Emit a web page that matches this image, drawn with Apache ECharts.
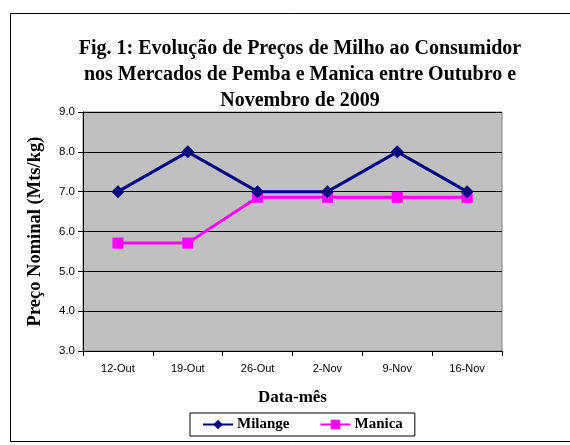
<!DOCTYPE html>
<html>
<head>
<meta charset="utf-8">
<script src="https://cdn.jsdelivr.net/npm/echarts@6/dist/echarts.min.js"></script>
<style>
  html, body { margin: 0; padding: 0; background: #fff; }
  #chart { width: 570px; height: 445px; }
</style>
</head>
<body>
<div id="chart"></div>
<script>
// dados
const categorias = ['12-Out', '19-Out', '26-Out', '2-Nov', '9-Nov', '16-Nov'];
const milange = [7.0, 8.0, 7.0, 7.0, 8.0, 7.0];
const manica = [5.71, 5.71, 6.86, 6.86, 6.86, 6.86];

const serif = '"Liberation Serif", "Times New Roman", serif';
const sans = '"Liberation Sans", Arial, sans-serif';

const chart = echarts.init(document.getElementById('chart'));
chart.setOption({
  animation: false,
  backgroundColor: '#fff',
  title: {
    text: 'Fig. 1: Evolução de Preços de Milho ao Consumidor\nnos Mercados de Pemba e Manica entre Outubro e\nNovembro de 2009',
    left: 295,
    textAlign: 'center',
    top: 31,
    textStyle: {
      fontFamily: serif, fontWeight: 'bold', fontSize: 20, lineHeight: 26, color: '#000'
    }
  },
  graphic: [{
    type: 'rect',
    shape: { x: 10.5, y: 13.5, width: 570, height: 428 },
    style: { fill: 'none', stroke: '#000', lineWidth: 1 },
    silent: true
  }],
  grid: {
    left: 83, right: 68, top: 112, bottom: 94,
    show: true, backgroundColor: '#c0c0c0', borderColor: '#808080', borderWidth: 1
  },
  legend: {
    top: 413,
    left: 190,
    itemGap: 30,
    itemWidth: 30,
    itemHeight: 12,
    padding: [4, 12, 4, 12],
    borderColor: '#000',
    borderWidth: 1,
    borderRadius: 0,
    textStyle: { fontFamily: serif, fontWeight: 'bold', fontSize: 15, color: '#000', padding: [0, 0, 0, -1] },
    data: ['Milange', 'Manica']
  },
  xAxis: {
    type: 'category',
    data: categorias,
    boundaryGap: true,
    name: 'Data-mês',
    nameLocation: 'middle',
    nameGap: 38,
    nameTextStyle: { fontFamily: serif, fontWeight: 'bold', fontSize: 17, color: '#000' },
    axisLine: { lineStyle: { color: '#000', width: 1 } },
    axisTick: { show: true, inside: false, length: 5, alignWithLabel: false, lineStyle: { color: '#000' } },
    axisLabel: { fontFamily: sans, fontSize: 11, color: '#000', margin: 12 },
    splitLine: { show: false }
  },
  yAxis: {
    type: 'value',
    min: 3, max: 9, interval: 1,
    name: 'Preço Nominal (Mts/kg)',
    nameLocation: 'middle',
    nameGap: 38,
    nameTextStyle: { fontFamily: serif, fontWeight: 'bold', fontSize: 18.5, color: '#000' },
    axisLine: { show: true, lineStyle: { color: '#000', width: 1 } },
    axisTick: { show: true, inside: false, length: 5, lineStyle: { color: '#000' } },
    axisLabel: { fontFamily: sans, fontSize: 11.5, color: '#000', margin: 8, formatter: v => v.toFixed(1) },
    splitLine: { show: true, lineStyle: { color: '#000', width: 1 } }
  },
  series: [
    {
      name: 'Milange',
      type: 'line',
      data: milange,
      symbol: 'diamond',
      symbolSize: 13,
      itemStyle: { color: '#000080' },
      lineStyle: { color: '#000080', width: 3 },
      z: 3
    },
    {
      name: 'Manica',
      type: 'line',
      data: manica,
      symbol: 'rect',
      symbolSize: 11,
      itemStyle: { color: '#ff00ff' },
      lineStyle: { color: '#ff00ff', width: 3 },
      z: 2
    }
  ]
});
</script>
</body>
</html>
